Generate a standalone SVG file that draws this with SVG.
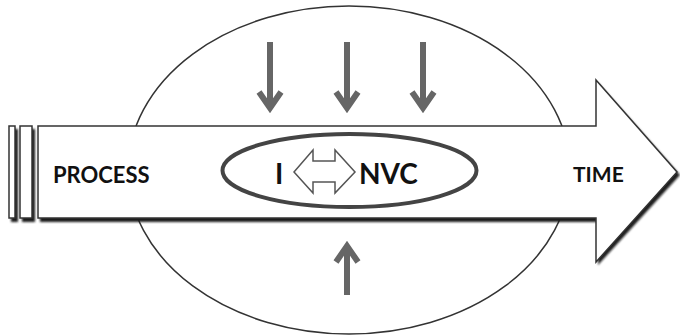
<svg xmlns="http://www.w3.org/2000/svg" width="680" height="336" viewBox="0 0 680 336">
<defs>
<style>
.lbl{font-family:Lato,"Liberation Sans",sans-serif;font-weight:bold;fill:#111;}
.ga{fill:none;stroke:#666;stroke-width:6;}
.shadow{fill:#1a1a1a;}
.outl{fill:#fff;stroke:#333;stroke-width:1.5;}
</style>
<filter id="blur" x="-5%" y="-5%" width="110%" height="110%"><feGaussianBlur stdDeviation="0.8"/></filter>
</defs>
<rect width="680" height="336" fill="#fff"/>
<g id="field">
<ellipse cx="349" cy="170" rx="221" ry="164" fill="#fff" stroke="#333" stroke-width="1.5"/>
</g>
<g id="time-arrow">
<g filter="url(#blur)">
<rect class="shadow" x="11" y="129" width="7" height="93"/>
<rect class="shadow" x="22" y="129" width="13" height="93"/>
<polygon class="shadow" points="40,129 598,129 598,83 680,175 598,265 598,222 40,222"/>
</g>
<rect class="outl" x="9" y="126" width="6" height="92"/>
<rect class="outl" x="20" y="126" width="12" height="92"/>
<polygon class="outl" points="38,126 596,126 596,80 677,172 596,262 596,218 38,218"/>
</g>
<g id="process-label"><text class="lbl" x="53" y="183" font-size="22">PROCESS</text></g>
<g id="time-label"><text class="lbl" x="573" y="182" font-size="21">TIME</text></g>
<g id="core">
<ellipse cx="349.5" cy="170.5" rx="127" ry="36.5" fill="#fff" stroke="#444" stroke-width="4"/>
<text class="lbl" x="275" y="184" font-size="28">I</text>
<polygon points="294,172 313,150 313,161 335,161 335,150 355,172 335,193 335,182 313,182 313,193" fill="#fff" stroke="#555" stroke-width="1.5" stroke-linejoin="miter"/>
<text class="lbl" x="359" y="184" font-size="28">NVC</text>
</g>
<g id="connectors">
<path class="ga" d="M270,42 V108 M259,92 L270,108 L281,92"/>
<path class="ga" d="M347,42 V108 M336,92 L347,108 L358,92"/>
<path class="ga" d="M423,42 V108 M412,92 L423,108 L434,92"/>
<path class="ga" d="M347,295 V246 M336,262 L347,246 L358,262"/>
</g>
</svg>
